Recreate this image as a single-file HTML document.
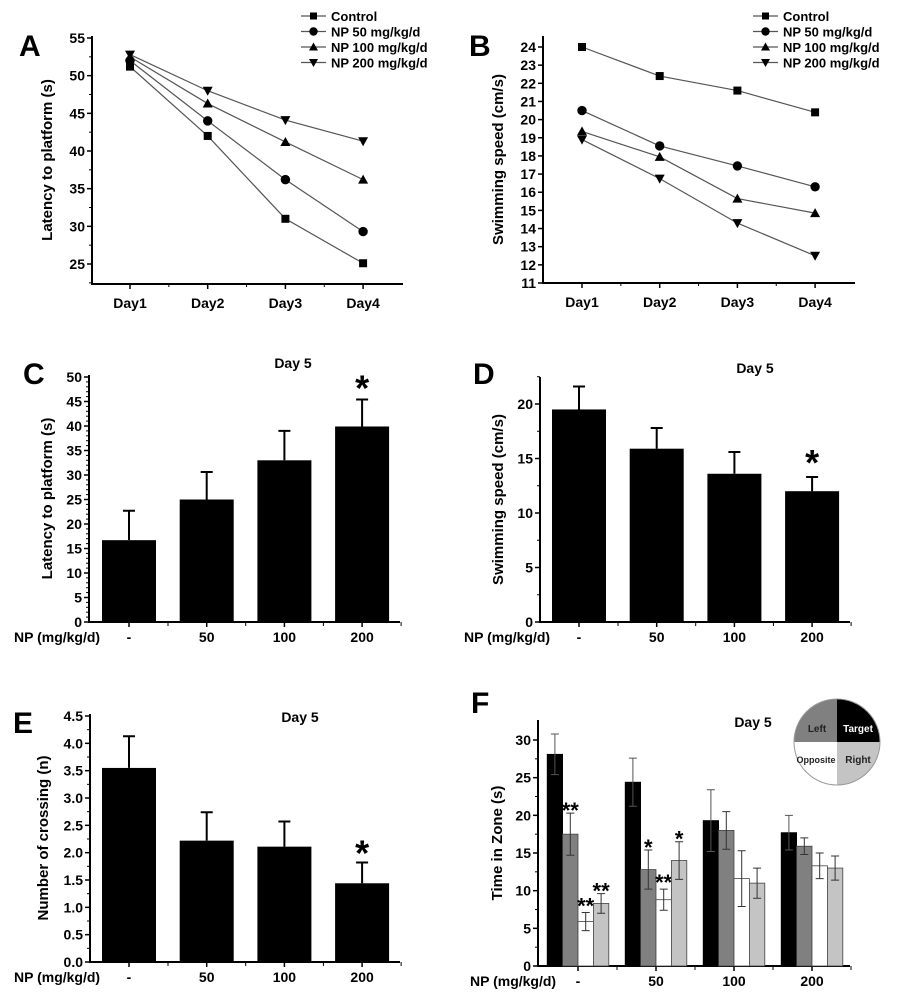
<!DOCTYPE html>
<html><head><meta charset="utf-8">
<style>
html,body{margin:0;padding:0;background:#fff;}
svg{display:block;font-family:"Liberation Sans",Arial,sans-serif;font-weight:bold;}
</style></head>
<body>
<svg id="fig" width="897" height="1000" viewBox="0 0 897 1000"></svg>
<script>
// ---- Data ----
const days = ["Day1","Day2","Day3","Day4"];
const seriesNames = ["Control","NP 50 mg/kg/d","NP 100 mg/kg/d","NP 200 mg/kg/d"];
const latControl = [51.2, 42.0, 31.0, 25.1];
const latNP50 = [52.0, 44.0, 36.2, 29.3];
const latNP100 = [52.5, 46.3, 41.2, 36.2];
const latNP200 = [52.8, 48.0, 44.1, 41.3];
const spdControl = [24.0, 22.4, 21.6, 20.4];
const spdNP50 = [20.5, 18.55, 17.45, 16.3];
const spdNP100 = [19.35, 17.95, 15.65, 14.85];
const spdNP200 = [18.9, 16.75, 14.3, 12.5];
const doses = ["-","50","100","200"];
const cLatency = [16.7, 25.0, 33.0, 39.9];
const cLatencyErr = [6.0, 5.6, 6.0, 5.5];
const dSpeed = [19.5, 15.9, 13.6, 12.0];
const dSpeedErr = [2.1, 1.9, 2.0, 1.3];
const eCross = [3.55, 2.22, 2.11, 1.44];
const eCrossErr = [0.58, 0.52, 0.46, 0.38];
const zones = ["Target","Left","Opposite","Right"];
const fTarget = [28.1, 24.4, 19.3, 17.7];
const fTargetErr = [2.7, 3.2, 4.1, 2.3];
const fLeft = [17.5, 12.8, 18.0, 15.9];
const fLeftErr = [2.8, 2.6, 2.5, 1.1];
const fOpp = [5.9, 8.8, 11.6, 13.3];
const fOppErr = [1.2, 1.4, 3.7, 1.7];
const fRight = [8.3, 14.0, 11.0, 13.0];
const fRightErr = [1.3, 2.5, 2.0, 1.6];
const cStars = ["","","","*"];
const dStars = ["","","","*"];
const eStars = ["","","","*"];
const fStars = [["","**","**","**"],["","*","**","*"],["","","",""],["","","",""]];

const NS="http://www.w3.org/2000/svg";
const svg=document.getElementById('fig');
function el(tag,attrs,parent,text){const e=document.createElementNS(NS,tag);for(const k in attrs)e.setAttribute(k,attrs[k]);if(text!==undefined)e.textContent=text;(parent||svg).appendChild(e);return e;}
function lin(d0,d1,r0,r1){return v=>r0+(v-d0)*(r1-r0)/(d1-d0);}

function panelLetter(t,x,y){const e=el('text',{x:x,y:y,'font-size':30},svg,t);

}

function axes(g,o){
 const ax=el('line',{x1:o.x0,y1:o.yTop,x2:o.x0,y2:o.yBot,stroke:'#000','stroke-width':2},g);
 
 const bx=el('line',{x1:o.x0-1,y1:o.yBot,x2:o.x1,y2:o.yBot,stroke:'#000','stroke-width':2},g);
 
 o.ticks.forEach(v=>{const yy=o.y(v);
  el('line',{x1:o.x0-5,y1:yy,x2:o.x0,y2:yy,stroke:'#000','stroke-width':1.5},g);
  const t=el('text',{x:o.x0-7,y:yy+5,'font-size':14,'text-anchor':'end'},g,o.fmt(v));
  });
 (o.minor||[]).forEach(v=>{const yy=o.y(v);el('line',{x1:o.x0-3,y1:yy,x2:o.x0,y2:yy,stroke:'#000','stroke-width':1},g);});
 const cy=(o.yTop+o.yBot)/2;
 const tt=el('text',{x:o.titleX,y:cy,'font-size':15,'text-anchor':'middle',transform:`rotate(-90 ${o.titleX} ${cy})`},g,o.title);
 
}
function range(a,b,s){const r=[];for(let v=a;v<=b+1e-9;v+=s)r.push(+v.toFixed(4));return r;}

function marker(g,type,x,y,s){
 if(type==='square')return el('rect',{x:x-s,y:y-s,width:2*s,height:2*s,fill:'#000'},g);
 if(type==='circle')return el('circle',{cx:x,cy:y,r:s+0.7,fill:'#000'},g);
 if(type==='up')return el('polygon',{points:`${x},${y-s-1} ${x-s-1},${y+s} ${x+s+1},${y+s}`,fill:'#000'},g);
 return el('polygon',{points:`${x},${y+s+1} ${x-s-1},${y-s} ${x+s+1},${y-s}`,fill:'#000'},g);
}
const mTypes=['square','circle','up','down'];

function linePanel(id,o,series){
 const g=el('g',{},svg);
 axes(g,o);
 const xs=o.xs;
 days.forEach((d,i)=>{const x=xs(i);el('line',{x1:x,y1:o.yBot,x2:x,y2:o.yBot+5,stroke:'#000','stroke-width':1.5},g);
  if(i<3)el('line',{x1:(x+xs(i+1))/2,y1:o.yBot,x2:(x+xs(i+1))/2,y2:o.yBot+3,stroke:'#000','stroke-width':1},g);
  const t=el('text',{x:x,y:o.yBot+24,'font-size':14,'text-anchor':'middle'},g,d);
  });
 series.forEach((s,si)=>{
  const pts=s.map((v,i)=>xs(i)+','+o.y(v)).join(' ');
  const pl=el('polyline',{points:pts,fill:'none',stroke:'#555','stroke-width':1.2},g);
  
  s.forEach((v,i)=>{const m=marker(g,mTypes[si],xs(i),o.y(v),4);
   });
 });
 seriesNames.forEach((n,i)=>{const ly=o.legY+i*15.5;
  const lg=el('g',{},g);
  el('line',{x1:o.legX,y1:ly,x2:o.legX+25,y2:ly,stroke:'#555','stroke-width':1.2},lg);
  marker(lg,mTypes[i],o.legX+12.5,ly,3.5);
  el('text',{x:o.legX+30,y:ly+5,'font-size':13},lg,n);});
}

function barPanel(id,o,vals,errs,stars){
 const g=el('g',{},svg);
 axes(g,o);
 const bw=54;
 doses.forEach((d,i)=>{const cx=o.xc(i);
  el('line',{x1:cx,y1:o.yBot,x2:cx,y2:o.yBot+5,stroke:'#000','stroke-width':1.5},g);
  el('line',{x1:cx+39,y1:o.yBot,x2:cx+39,y2:o.yBot+4,stroke:'#000','stroke-width':1},g);
  const t=el('text',{x:cx,y:o.yBot+20,'font-size':14,'text-anchor':'middle'},g,d);
  
  const yv=o.y(vals[i]),ye=o.y(vals[i]+errs[i]);
  const b=el('rect',{x:cx-bw/2,y:yv,width:bw,height:o.yBot-yv,fill:'#000'},g);
  
  const eb=el('path',{d:`M${cx},${yv} V${ye} M${cx-6},${ye} H${cx+6}`,stroke:'#000','stroke-width':2,fill:'none'},g);
  
  if(stars[i]){const st=el('text',{x:cx,y:ye+o.starOff,'font-size':36,'text-anchor':'middle'},g,stars[i]);
   }
 });
 const nl=el('text',{x:o.npX,y:o.yBot+20,'font-size':14},g,'NP (mg/kg/d)');
 
 const dt=el('text',{x:o.dayX,y:o.dayY,'font-size':14,'text-anchor':'middle'},g,'Day 5');
 
}

panelLetter('A',19,56);
{const y=lin(25,55,264,38);const xs=i=>130+i*77.7;
linePanel('panel-a-latency-chart',{x0:92,x1:403,yTop:36,yBot:284,y:y,ticks:range(25,55,5),minor:range(22.5,52.5,5),fmt:v=>v,title:'Latency to platform (s)',titleX:52,xs:xs,legX:301,legY:16},
 [latControl,latNP50,latNP100,latNP200]);}
panelLetter('B',469,56);
{const y=lin(11,24,283,47);const xs=i=>582+i*77.7;
linePanel('panel-b-speed-chart',{x0:543,x1:855,yTop:36,yBot:283,y:y,ticks:range(11,24,1),minor:[],fmt:v=>v,title:'Swimming speed (cm/s)',titleX:503,xs:xs,legX:753,legY:16},
 [spdControl,spdNP50,spdNP100,spdNP200]);}
panelLetter('C',23,384);
{const y=lin(0,50,622,377);
barPanel('panel-c-latency-bars',{x0:89,x1:400,yTop:375,yBot:622,y:y,ticks:range(0,50,5),minor:range(1,49,1).filter(v=>v%5),fmt:v=>v,title:'Latency to platform (s)',titleX:52,xc:i=>129+i*77.7,npX:14,dayX:293,dayY:368,starOff:1},cLatency,cLatencyErr,cStars);}
panelLetter('D',473,384);
{const y=lin(0,20,622,404);
barPanel('panel-d-speed-bars',{x0:540,x1:850,yTop:377,yBot:622,y:y,ticks:range(0,20,5),minor:range(2.5,22.5,5),fmt:v=>v,title:'Swimming speed (cm/s)',titleX:503,xc:i=>579+i*77.7,npX:464,dayX:755,dayY:373,starOff:-2},dSpeed,dSpeedErr,dStars);}
panelLetter('E',13,733);
{const y=lin(0,4.5,962,716);
barPanel('panel-e-crossing-bars',{x0:90,x1:400,yTop:714,yBot:962,y:y,ticks:range(0,4.5,0.5),minor:range(0.25,4.25,0.5),fmt:v=>v.toFixed(1),title:'Number of crossing (n)',titleX:48,xc:i=>129+i*77.7,npX:14,dayX:300,dayY:722,starOff:3},eCross,eCrossErr,eStars);}

panelLetter('F',471,713);
{const g=el('g',{},svg);
 const y=lin(0,30,966,740);
 axes(g,{x0:538,x1:850,yTop:720,yBot:966,y:y,ticks:range(0,30,5),minor:range(2.5,27.5,5),fmt:v=>v,title:'Time in Zone (s)',titleX:502});
 const fVals=[fTarget,fLeft,fOpp,fRight],fErrs=[fTargetErr,fLeftErr,fOppErr,fRightErr];
 const fills=['#000','#808080','#fff','#c4c4c4'];
 const bw=15.4;
 doses.forEach((d,gi)=>{const cx=578+gi*78;
  el('line',{x1:cx,y1:966,x2:cx,y2:971,stroke:'#000','stroke-width':1.5},g);
  el('line',{x1:cx+39,y1:966,x2:cx+39,y2:970,stroke:'#000','stroke-width':1},g);
  const t=el('text',{x:cx,y:986,'font-size':14,'text-anchor':'middle'},g,d);
  
  zones.forEach((z,zi)=>{const x=cx-2*bw+zi*bw;const v=fVals[zi][gi],e=fErrs[zi][gi];
   const yv=y(v);
   const b=el('rect',{x:x,y:yv,width:bw,height:966-yv,fill:fills[zi],stroke:zi===0?'#000':'#444','stroke-width':0.8},g);
   
   const xm=x+bw/2;
   const eb=el('path',{d:`M${xm},${y(v-e)} V${y(v+e)} M${xm-4},${y(v+e)} H${xm+4} M${xm-4},${y(v-e)} H${xm+4}`,stroke:zi===0?'#555':'#333','stroke-width':1,fill:'none'},g);
   
   const s=fStars[gi][zi];
   if(s){const st=el('text',{x:xm,y:y(v+e)+(zi===2?1:5),'font-size':22,'text-anchor':'middle'},g,s);
    }
  });
 });
 const nl=el('text',{x:470,y:986,'font-size':14},g,'NP (mg/kg/d)');
 
 const dt=el('text',{x:753,y:727,'font-size':14,'text-anchor':'middle'},g,'Day 5');
 
 const pg=el('g',{},g);
 const pcx=837,pcy=742,r=43;
 el('path',{d:`M${pcx},${pcy} L${pcx},${pcy-r} A${r},${r} 0 0 1 ${pcx+r},${pcy} Z`,fill:'#000'},pg);
 el('path',{d:`M${pcx},${pcy} L${pcx-r},${pcy} A${r},${r} 0 0 1 ${pcx},${pcy-r} Z`,fill:'#808080'},pg);
 el('path',{d:`M${pcx},${pcy} L${pcx},${pcy+r} A${r},${r} 0 0 1 ${pcx-r},${pcy} Z`,fill:'#fff'},pg);
 el('path',{d:`M${pcx},${pcy} L${pcx+r},${pcy} A${r},${r} 0 0 1 ${pcx},${pcy+r} Z`,fill:'#c4c4c4'},pg);
 el('circle',{cx:pcx,cy:pcy,r:r,fill:'none',stroke:'#999','stroke-width':1},pg);
 el('text',{x:pcx-20,y:pcy-10,'font-size':10,'text-anchor':'middle',fill:'#222'},pg,'Left');
 el('text',{x:pcx+21,y:pcy-10,'font-size':10,'text-anchor':'middle',fill:'#fff'},pg,'Target');
 el('text',{x:pcx-21,y:pcy+21,'font-size':9,'text-anchor':'middle',fill:'#222'},pg,'Opposite');
 el('text',{x:pcx+21,y:pcy+21,'font-size':10,'text-anchor':'middle',fill:'#222'},pg,'Right');
}
</script>
</body></html>
